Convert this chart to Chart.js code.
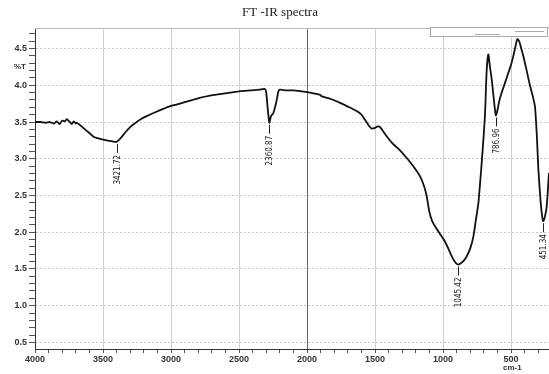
<!DOCTYPE html>
<html>
<head>
<meta charset="utf-8">
<script src="https://cdn.jsdelivr.net/npm/chart.js@4/dist/chart.umd.min.js"></script>
<style>
  body { margin: 0; background: #fff; }
  #wrap { width: 549px; height: 374px; position: relative; }
</style>
</head>
<body>
<div id="wrap"><canvas id="ftir"></canvas></div>
<script>
// wavenumber positions as they sit on the printed axis, and %T values
var waveNumbers = [4000, 3960, 3920, 3890, 3860, 3840, 3820, 3800, 3780, 3767, 3755, 3743, 3730, 3715, 3700, 3693,
    3670, 3645, 3620, 3600, 3571, 3540, 3500, 3473, 3440, 3400, 3370, 3340, 3301, 3260, 3220, 3179, 3120, 3057,
    3000, 2934, 2860, 2790, 2713, 2640, 2566, 2490, 2419, 2350, 2309, 2300, 2290, 2277, 2265, 2248, 2225, 2210,
    2199, 2150, 2100, 2051, 1978, 1904, 1892, 1820, 1757, 1700, 1635, 1600, 1574, 1545, 1524, 1500, 1480, 1463,
    1420, 1377, 1320, 1267, 1220, 1169, 1140, 1120, 1101, 1080, 1059, 1020, 985, 950, 924, 905, 887, 860, 840,
    826, 800, 777, 760, 740, 716, 700, 691, 679, 667, 655, 642, 625, 612, 600, 585, 569, 545, 520, 500, 483,
    465, 454, 440, 425, 410, 385, 360, 340, 324, 310, 299, 282, 270, 263, 250, 238, 221];
var transmittance = [3.50, 3.50, 3.49, 3.50, 3.48, 3.51, 3.47, 3.52, 3.51, 3.54, 3.52, 3.50, 3.47, 3.51, 3.48, 3.49,
    3.46, 3.42, 3.38, 3.35, 3.30, 3.28, 3.26, 3.25, 3.24, 3.23, 3.28, 3.35, 3.43, 3.49, 3.54, 3.58, 3.63, 3.68,
    3.72, 3.75, 3.79, 3.83, 3.86, 3.88, 3.90, 3.92, 3.93, 3.94, 3.95, 3.90, 3.70, 3.49, 3.58, 3.62, 3.78, 3.92,
    3.94, 3.93, 3.93, 3.92, 3.90, 3.87, 3.85, 3.81, 3.76, 3.71, 3.65, 3.60, 3.53, 3.45, 3.41, 3.42, 3.44, 3.43,
    3.32, 3.22, 3.12, 3.01, 2.90, 2.76, 2.63, 2.49, 2.28, 2.15, 2.08, 1.97, 1.87, 1.73, 1.63, 1.58, 1.56, 1.59, 1.63,
    1.67, 1.78, 1.94, 2.15, 2.40, 2.94, 3.35, 3.62, 4.21, 4.42, 4.25, 4.08, 3.78, 3.59, 3.66, 3.80, 3.90, 4.03, 4.17, 4.28, 4.40,
    4.55, 4.63, 4.60, 4.50, 4.40, 4.20, 3.99, 3.85, 3.71, 3.30, 2.85, 2.40, 2.20, 2.15, 2.22, 2.35, 2.81];

// marked minima
var peakX = [3400, 2277, 887, 612, 263];
var peakY = [3.23, 3.49, 1.56, 3.59, 2.15];
var peakLabels = ["3421.72", "2360.87", "1045.42", "786.96", "451.34"];

var pts = waveNumbers.map(function(w, i) { return {x: w, y: transmittance[i]}; });

function isMajor(v, step) {
    var r = v / step;
    return Math.abs(r - Math.round(r)) < 1e-6;
}

var decor = {
    id: 'decor',
    afterDraw: function(chart) {
        var ctx = chart.ctx, a = chart.chartArea;
        var xs = chart.scales.x, ys = chart.scales.y;
        ctx.save();
        // top frame line
        ctx.strokeStyle = '#bbb';
        ctx.lineWidth = 1;
        ctx.beginPath();
        ctx.moveTo(a.left, a.top + 0.5);
        ctx.lineTo(a.right, a.top + 0.5);
        ctx.stroke();

        // small header box top right
        ctx.fillStyle = '#fff';
        ctx.fillRect(430, 27, 118, 10);
        ctx.strokeStyle = '#aaa';
        ctx.strokeRect(430.5, 27.5, 117, 9);
        ctx.beginPath();
        ctx.moveTo(515, 31.5); ctx.lineTo(544, 31.5);
        ctx.moveTo(475, 34.5); ctx.lineTo(500, 34.5);
        ctx.stroke();

        // title
        ctx.fillStyle = '#222';
        ctx.font = '13px "Liberation Serif", "Times New Roman", serif';
        ctx.textAlign = 'center';
        ctx.textBaseline = 'middle';
        ctx.fillText('FT -IR spectra', 280, 13);

        // unit labels
        ctx.font = 'bold 8px "Liberation Sans", Arial, sans-serif';
        ctx.fillStyle = '#333';
        ctx.textAlign = 'right';
        ctx.fillText('%T', 26, ys.getPixelForValue(4.25));
        ctx.textAlign = 'left';
        ctx.fillText('cm-1', 503, 368);

        // peak markers
        ctx.strokeStyle = '#222';
        ctx.fillStyle = '#222';
        ctx.lineWidth = 1;
        ctx.font = '8px "Liberation Sans Narrow", "DejaVu Sans Condensed", sans-serif';
        for (var i = 0; i < peakX.length; i++) {
            var px = Math.round(xs.getPixelForValue(peakX[i])) + 0.5;
            var py = ys.getPixelForValue(peakY[i]);
            ctx.beginPath();
            ctx.moveTo(px, py + 2);
            ctx.lineTo(px, py + 11);
            ctx.stroke();
            ctx.save();
            ctx.translate(px, py + 13);
            ctx.rotate(-Math.PI / 2);
            ctx.textAlign = 'right';
            ctx.textBaseline = 'middle';
            ctx.fillText(peakLabels[i], 0, 0);
            ctx.restore();
        }
        ctx.restore();
    }
};

var tickFont = { family: '"Liberation Sans", Arial, sans-serif', size: 9, weight: 'bold' };

var ctx = document.getElementById('ftir').getContext('2d');
var myChart = new Chart(ctx, {
    type: 'line',
    data: {
        datasets: [{
            data: pts,
            borderColor: '#111',
            borderWidth: 1.8,
            pointRadius: 0,
            tension: 0.2,
            fill: false
        }]
    },
    options: {
        responsive: true,
        maintainAspectRatio: false,
        animation: false,
        layout: { padding: { top: 28, right: 0, left: 0, bottom: 0 } },
        plugins: {
            legend: { display: false },
            title: { display: false },
            tooltip: { enabled: false }
        },
        scales: {
            x: {
                type: 'linear',
                reverse: true,
                min: 221,
                max: 4000,
                afterFit: function(s) { s.height = 25; },
                ticks: {
                    stepSize: 100,
                    maxTicksLimit: 1000,
                    includeBounds: false,
                    autoSkip: false,
                    maxRotation: 0,
                    padding: 1,
                    color: '#333',
                    font: tickFont,
                    callback: function(v) { return isMajor(v, 500) ? String(v) : ''; }
                },
                grid: {
                    color: function(c) {
                        if (!c.tick) return 'rgba(0,0,0,0)';
                        if (c.tick.value === 2000) return '#666';
                        return isMajor(c.tick.value, 500) ? '#cdcdcd' : 'rgba(0,0,0,0)';
                    },
                    lineWidth: 1,
                    tickLength: 4,
                    tickColor: '#555'
                },
                border: { color: '#333', width: 1 }
            },
            y: {
                min: 0.41,
                max: 4.78,
                afterFit: function(s) { s.width = 35; },
                ticks: {
                    stepSize: 0.1,
                    maxTicksLimit: 1000,
                    includeBounds: false,
                    autoSkip: false,
                    padding: 2,
                    color: '#333',
                    font: tickFont,
                    callback: function(v) { return isMajor(v, 0.5) ? v.toFixed(1) : ''; }
                },
                grid: {
                    color: function(c) {
                        if (!c.tick) return 'rgba(0,0,0,0)';
                        return isMajor(c.tick.value, 0.5) ? '#c8c8c8' : 'rgba(0,0,0,0)';
                    },
                    lineWidth: 1,
                    tickLength: 6,
                    tickColor: '#555'
                },
                border: { color: '#333', width: 1, dash: [2, 2] }
            }
        }
    },
    plugins: [decor]
});
</script>
</body>
</html>
